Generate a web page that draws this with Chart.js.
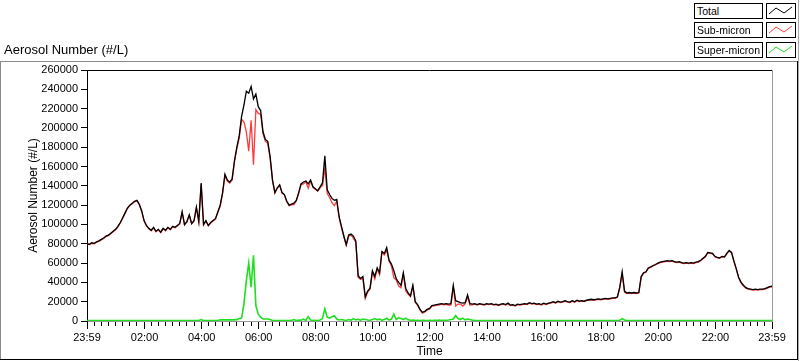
<!DOCTYPE html>
<html>
<head>
<meta charset="utf-8">
<script src="https://cdn.jsdelivr.net/npm/chart.js@4.4.1/dist/chart.umd.min.js"></script>
<style>
  html, body { margin:0; padding:0; background:#fff; }
  #wrap { position:relative; width:800px; height:361px; overflow:hidden; font-family:"Liberation Sans", Arial, sans-serif; }
  #c { position:absolute; left:0; top:0; }
  .ov { position:absolute; pointer-events:none; }
  .lbox { position:absolute; box-sizing:border-box; height:16px; border:1px solid #000; background:#fff; font-size:10.5px; line-height:14px; padding-left:2px; color:#000; white-space:nowrap; overflow:hidden; }
  .sw { position:absolute; box-sizing:border-box; width:30px; height:16px; border:1px solid #000; background:#fff; }
</style>
</head>
<body>
<div id="wrap">
  <canvas id="c" width="800" height="361"></canvas>
  <!-- frame -->
  <div class="ov" style="left:0;top:61px;width:797px;height:1px;background:#8a8a8a"></div>
  <div class="ov" style="left:0;top:61px;width:1px;height:298px;background:#8a8a8a"></div>
  <div class="ov" style="left:0;top:359px;width:798px;height:1px;background:#000"></div>
  <div class="ov" style="left:797px;top:61px;width:1px;height:299px;background:#000"></div>
  <div class="ov" style="left:798px;top:0;width:1px;height:361px;background:#a8a8a8"></div>
  <!-- title -->
  <div class="ov" style="left:4px;top:43px;font-size:13px;line-height:13px;color:#000">Aerosol Number (#/L)</div>
  <!-- legend -->
  <div id="legend"></div>
</div>
<script>
// ---------- data (5-minute samples from 23:59) ----------
const sampleStepMinutes = 5;

const totalNumber = [
  80000, 79500, 81000, 80500, 82000, 83000, 84500, 86000, 88000, 89000, 91000, 93000,
  95000, 98000, 102000, 107000, 112000, 117000, 120000, 122000, 124000, 125000, 121000, 114000,
  104000, 99000, 96000, 94000, 97000, 93000, 95000, 92000, 96000, 94000, 97000, 95000,
  98000, 97000, 99000, 101000, 113000, 100000, 103000, 110000, 101000, 104000, 118000, 103000,
  143000, 100000, 104000, 99000, 102000, 104000, 106000, 113000, 120000, 133000, 152000, 146000,
  144000, 147000, 166000, 180000, 192000, 212000, 224000, 238000, 236000, 243000, 230000, 235000,
  222000, 218000, 196000, 188000, 186000, 170000, 146000, 133000, 138000, 141000, 133000, 131000,
  124000, 120000, 121000, 122000, 125000, 133000, 142000, 144000, 145000, 142000, 146000, 139000,
  137000, 135000, 139000, 143000, 171000, 136000, 131000, 127000, 125000, 126000, 108000, 98000,
  88000, 79000, 89000, 90000, 88000, 83000, 47000, 44000, 46000, 25000, 31000, 34000,
  52000, 46000, 55000, 50000, 72000, 70000, 76000, 63000, 59000, 52000, 44000, 40000,
  37000, 50000, 34000, 29000, 26000, 37000, 20000, 17000, 12000, 9000, 10000, 12000,
  13000, 16000, 16500, 17000, 17500, 18000, 17500, 18000, 17500, 18000, 37000, 21000,
  20000, 19000, 18500, 19000, 27000, 18000, 17500, 18000, 17000, 18000, 17500, 17000,
  18000, 17500, 18000, 17000, 17500, 16500, 17500, 18000, 17000, 18500, 16500, 17000,
  16000, 17500, 17000, 17500, 18000, 17500, 19000, 18000, 18500, 17500, 18000, 17000,
  18500, 17500, 18500, 19000, 20000, 19000, 20500, 19500, 20000, 21000, 20000, 19500,
  21000, 20000, 21500, 20500, 21000, 20500, 21500, 22000, 22500, 22000, 22500, 23000,
  22500, 23000, 23500, 23000, 23500, 24000, 24000, 25000, 35000, 51000, 31000, 29000,
  29500, 29000, 29500, 29000, 29500, 46000, 50000, 51000, 55000, 56000, 57500, 58500,
  60000, 61000, 61500, 62000, 62500, 62000, 62500, 61500, 61000, 61500, 60500, 60000,
  60500, 60000, 60500, 60000, 61000, 61500, 63000, 65000, 67000, 71000, 70500, 70000,
  67000, 66000, 65500, 67000, 66500, 70000, 73000, 71000, 62000, 54000, 45000, 40000,
  37000, 34500, 33500, 33000, 32500, 33000, 32500, 33000, 33000, 33500, 34500, 35500,
  36000
];

const subMicron = [
  79500, 79100, 80500, 80000, 81600, 82500, 84000, 85500, 87600, 88500, 90500, 92500,
  94500, 97500, 101500, 106500, 111500, 116500, 119500, 121500, 123500, 124500, 120500, 113500,
  103500, 98500, 95500, 93500, 96500, 92500, 94500, 91500, 95500, 93500, 96500, 94500,
  97500, 96500, 98500, 100500, 112500, 99500, 102500, 109500, 100500, 103500, 117500, 102500,
  141500, 99500, 103500, 98500, 101500, 103500, 105500, 112500, 118800, 131800, 150700, 144800,
  142800, 145700, 164800, 178600, 189500, 209000, 206000, 196000, 176000, 208000, 162000, 219000,
  215000, 214000, 194000, 186000, 184000, 168500, 145500, 132500, 137500, 140500, 132500, 130500,
  123500, 119500, 120400, 120500, 124500, 132000, 141200, 142000, 144500, 137500, 145000, 138500,
  136400, 134500, 138000, 140500, 158500, 132000, 128000, 122500, 119500, 124000, 107000, 96500,
  87000, 78400, 87500, 89200, 85500, 81800, 45200, 43200, 44000, 23500, 30000, 33200,
  50500, 43500, 53800, 48000, 71200, 68500, 73200, 62000, 57000, 45000, 42500, 36500,
  34500, 48500, 31000, 27800, 25200, 36000, 19500, 16300, 11500, 8200, 9400, 11500,
  12300, 15500, 15700, 16400, 16500, 17400, 16700, 17300, 16500, 16500, 35000, 15500,
  17500, 17500, 15500, 17800, 25000, 16500, 16700, 17400, 16500, 17500, 17000, 16500,
  17500, 17000, 17500, 16500, 17000, 16000, 17000, 17500, 16500, 18000, 16000, 16500,
  15500, 17000, 16500, 17000, 17500, 17000, 18500, 17500, 18000, 17000, 17500, 16500,
  18000, 17000, 18000, 18500, 19500, 18500, 20000, 19000, 19500, 20500, 19500, 19000,
  20500, 19500, 21000, 20000, 20500, 20000, 21000, 21500, 22000, 21500, 22000, 22500,
  22000, 22500, 23000, 22500, 23000, 23500, 23500, 24500, 34200, 48500, 30000, 28500,
  29000, 28500, 29000, 28500, 29000, 45500, 49500, 50500, 54500, 55500, 57000, 58000,
  59500, 60500, 61000, 61500, 62000, 61500, 62000, 61000, 60500, 61000, 60000, 59500,
  60000, 59500, 60000, 59500, 60500, 61000, 62500, 64500, 66500, 70500, 70000, 69500,
  66500, 65500, 65000, 66500, 66000, 69500, 72500, 70500, 61500, 53500, 44500, 39500,
  36500, 34000, 33000, 32500, 32000, 32500, 32000, 32500, 32500, 33000, 34000, 35000,
  35500
];

const superMicron = [
  500, 400, 500, 500, 400, 500, 500, 500, 400, 500, 500, 500,
  500, 500, 500, 500, 500, 500, 500, 500, 500, 500, 500, 500,
  500, 500, 500, 500, 500, 500, 500, 500, 500, 500, 500, 500,
  500, 500, 500, 500, 500, 500, 500, 500, 500, 500, 500, 500,
  1500, 500, 500, 500, 500, 500, 500, 500, 1200, 1200, 1300, 1200,
  1200, 1300, 1200, 1400, 2500, 3000, 18000, 42000, 60000, 35000, 68000, 16000,
  7000, 4000, 2000, 2000, 2000, 1500, 500, 500, 500, 500, 500, 500,
  500, 500, 600, 1500, 500, 1000, 800, 2000, 500, 4500, 1000, 500,
  600, 500, 1000, 2500, 12500, 4000, 3000, 4500, 5500, 2000, 1000, 1500,
  1000, 600, 1500, 800, 2500, 1200, 1800, 800, 2000, 1500, 1000, 800,
  1500, 2500, 1200, 2000, 800, 1500, 2800, 1000, 2000, 7000, 1500, 3500,
  2500, 1500, 3000, 1200, 800, 1000, 500, 700, 500, 800, 600, 500,
  700, 500, 800, 600, 1000, 600, 800, 700, 1000, 1500, 2000, 5500,
  2500, 1500, 3000, 1200, 2000, 1500, 800, 600, 500, 500, 500, 500,
  500, 500, 500, 500, 500, 500, 500, 500, 500, 500, 500, 500,
  500, 500, 500, 500, 500, 500, 500, 500, 500, 500, 500, 500,
  500, 500, 500, 500, 500, 500, 500, 500, 500, 500, 500, 500,
  500, 500, 500, 500, 500, 500, 500, 500, 500, 500, 500, 500,
  500, 500, 500, 500, 500, 500, 500, 500, 800, 2500, 1000, 500,
  500, 500, 500, 500, 500, 500, 500, 500, 500, 500, 500, 500,
  500, 500, 500, 500, 500, 500, 500, 500, 500, 500, 500, 500,
  500, 500, 500, 500, 500, 500, 500, 500, 500, 500, 500, 500,
  500, 500, 500, 500, 500, 500, 500, 500, 500, 500, 500, 500,
  500, 500, 500, 500, 500, 500, 500, 500, 500, 500, 500, 500,
  500
];

// x tick labels (minutes after 23:59)
const majorTickMinutes = [0, 121, 241, 361, 481, 601, 721, 841, 961, 1081, 1201, 1321, 1440];
const majorTickLabels  = ['23:59','02:00','04:00','06:00','08:00','10:00','12:00','14:00','16:00','18:00','20:00','22:00','23:59'];
const minorTickStep = 15;

const seriesNames  = ['Total', 'Sub-micron', 'Super-micron'];
const seriesColors = ['#000000', '#ff3a3a', '#1fdf1f'];

// ---------- build ----------
function toPoints(arr) { return arr.map((v, i) => ({ x: i * sampleStepMinutes, y: v })); }

const allTicks = [];
for (let m = 0; m <= 1440; m += minorTickStep) {
  if (!majorTickMinutes.some(t => Math.abs(t - m) < 4)) allTicks.push(m);
}
majorTickMinutes.forEach(t => allTicks.push(t));
allTicks.sort((a, b) => a - b);

const frameLines = {
  id: 'frameLines',
  afterDatasetsDraw(chart) {
    const { ctx, chartArea: a } = chart;
    ctx.save();
    ctx.lineWidth = 1;
    ctx.strokeStyle = '#000';
    ctx.beginPath(); ctx.moveTo(a.left, a.top + 0.5); ctx.lineTo(a.right, a.top + 0.5); ctx.stroke();
    ctx.strokeStyle = '#9a9a9a';
    ctx.beginPath(); ctx.moveTo(a.right + 0.5, a.top); ctx.lineTo(a.right + 0.5, a.bottom); ctx.stroke();
    ctx.restore();
  }
};

const FONT = '"Liberation Sans", Arial, sans-serif';

new Chart(document.getElementById('c'), {
  type: 'line',
  data: {
    datasets: [
      { label: seriesNames[0], data: toPoints(totalNumber), borderColor: seriesColors[0], borderWidth: 1.3, pointRadius: 0, tension: 0 },
      { label: seriesNames[1], data: toPoints(subMicron),   borderColor: seriesColors[1], borderWidth: 1.3, pointRadius: 0, tension: 0 },
      { label: seriesNames[2], data: toPoints(superMicron), borderColor: seriesColors[2], borderWidth: 1.6, pointRadius: 0, tension: 0 }
    ]
  },
  options: {
    responsive: false,
    animation: false,
    devicePixelRatio: 1,
    layout: { padding: { left: 0, top: 70, right: 28, bottom: 0 } },
    plugins: { legend: { display: false }, tooltip: { enabled: false }, title: { display: false } },
    scales: {
      x: {
        type: 'linear', min: 0, max: 1440,
        afterBuildTicks(s) { s.ticks = allTicks.map(v => ({ value: v })); },
        afterFit(s) { s.height = 40; },
        ticks: {
          autoSkip: false, maxRotation: 0, minRotation: 0, padding: 2,
          color: '#000', font: { family: FONT, size: 11 },
          callback(v) { const i = majorTickMinutes.indexOf(v); return i >= 0 ? majorTickLabels[i] : ''; }
        },
        grid: {
          drawOnChartArea: false, drawTicks: true, tickLength: 8, tickColor: '#000', tickWidth: 1,
          tickBorderDash(ctx) { const v = ctx.tick ? ctx.tick.value : null; return majorTickMinutes.includes(v) ? [] : [4, 40]; }
        },
        border: { display: true, color: '#9a9a9a', width: 1 },
        title: { display: true, text: 'Time', color: '#000', font: { family: FONT, size: 12 }, padding: { top: 0, bottom: 2 } }
      },
      y: {
        min: 0, max: 260000,
        afterFit(s) { s.width = 87; },
        ticks: {
          stepSize: 20000, padding: 3, color: '#000', font: { family: FONT, size: 11 },
          callback(v) { return String(v); }
        },
        grid: { drawOnChartArea: false, drawTicks: true, tickLength: 6, tickColor: '#000' },
        border: { display: true, color: '#000', width: 1 },
        title: { display: true, text: 'Aerosol Number (#/L)', color: '#000', font: { family: FONT, size: 12 }, padding: { top: 26, bottom: 0 } }
      }
    }
  },
  plugins: [frameLines]
});

// ---------- legend ----------
const legend = document.getElementById('legend');
const rowTops = [3, 22, 42];
seriesNames.forEach((name, i) => {
  const b = document.createElement('div');
  b.className = 'lbox';
  b.style.left = '694px'; b.style.top = rowTops[i] + 'px'; b.style.width = '69px';
  b.textContent = name;
  legend.appendChild(b);
  const s = document.createElement('div');
  s.className = 'sw';
  s.style.left = '766px'; s.style.top = rowTops[i] + 'px';
  s.innerHTML = '<svg width="28" height="14" style="display:block"><polyline points="2,10 9,4 17,9 25,3" fill="none" stroke="' + seriesColors[i] + '" stroke-width="1"/></svg>';
  legend.appendChild(s);
});
</script>
</body>
</html>
